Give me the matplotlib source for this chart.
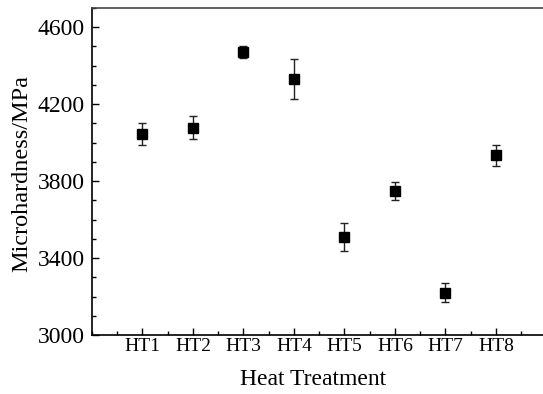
import matplotlib
matplotlib.use("Agg")
import matplotlib.pyplot as plt
from matplotlib.ticker import MultipleLocator

# data
treatments = ["HT1", "HT2", "HT3", "HT4", "HT5", "HT6", "HT7", "HT8"]
hardness = [4045, 4077, 4472, 4332, 3509, 3750, 3220, 3934]
hardness_err = [57, 60, 30, 103, 73, 46, 48, 53]
y_major = [3000, 3400, 3800, 4200, 4600]

plt.rcParams["font.family"] = ["Liberation Serif", "DejaVu Serif"]

fig = plt.figure(figsize=(5.43, 3.94), dpi=100)
ax = fig.add_axes([0.1694, 0.1497, 0.837, 0.830])

x = list(range(1, len(treatments) + 1))
ax.errorbar(x, hardness, yerr=hardness_err, fmt="s", color="black",
            markersize=6.5, ecolor="#222222", elinewidth=1.0,
            capsize=2.7, capthick=1.0)

ax.set_xlim(0, 9)
ax.set_ylim(3000, 4700)
ax.set_xticks(x)
ax.set_xticklabels(treatments)
ax.xaxis.set_minor_locator(MultipleLocator(0.5))
ax.set_yticks(y_major)
ax.yaxis.set_minor_locator(MultipleLocator(100))

ax.tick_params(which="both", direction="in", top=False, right=False)
ax.tick_params(which="major", length=5, width=1.0)
ax.tick_params(which="minor", length=3, width=1.0)
ax.tick_params(axis="x", which="major", labelsize=14, pad=2.5)
ax.tick_params(axis="y", which="major", labelsize=17, pad=5)

# right edge of the frame is cropped off in the original
for s in ["left", "bottom", "top"]:
    ax.spines[s].set_linewidth(1.2)
ax.spines["right"].set_visible(False)
ax.spines["top"].set_color("#444444")

ax.set_xlabel("Heat Treatment", fontsize=17)
ax.set_ylabel("Microhardness/MPa", fontsize=17.5)
ax.xaxis.set_label_coords(0.486, -0.104)
ax.yaxis.set_label_coords(-0.132, 0.494)

fig.savefig("out.png", dpi=100)
